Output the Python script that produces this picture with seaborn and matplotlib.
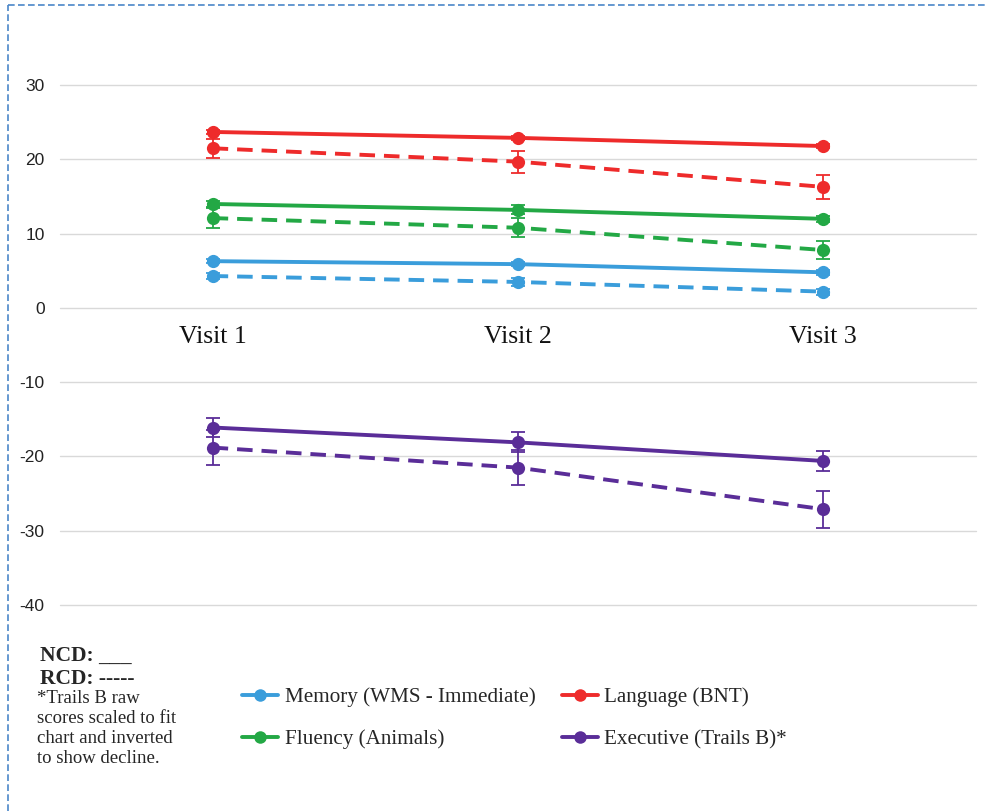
import numpy as np
import pandas as pd
import matplotlib.pyplot as plt
import matplotlib.lines as mlines
import seaborn as sns

visits = ["Visit 1", "Visit 2", "Visit 3"]
domains = ["Memory (WMS - Immediate)", "Language (BNT)", "Fluency (Animals)", "Executive (Trails B)*"]
colors = ["#3a9ddb", "#ee2b2b", "#23a845", "#5a2d98"]

# NCD = solid, RCD = dashed
memory_ncd = [6.3, 5.9, 4.8]
memory_rcd = [4.3, 3.5, 2.2]
language_ncd = [23.7, 22.9, 21.8]
language_rcd = [21.5, 19.7, 16.3]
fluency_ncd = [14.0, 13.2, 12.0]
fluency_rcd = [12.1, 10.8, 7.8]
executive_ncd = [-16.1, -18.1, -20.6]
executive_rcd = [-18.8, -21.5, -27.1]

memory_ncd_err = [0.3, 0.3, 0.3]
memory_rcd_err = [0.4, 0.5, 0.4]
language_ncd_err = [0.3, 0.3, 0.3]
language_rcd_err = [1.3, 1.5, 1.6]
fluency_ncd_err = [0.4, 0.6, 0.4]
fluency_rcd_err = [1.3, 1.3, 1.2]
executive_ncd_err = [1.3, 1.35, 1.35]
executive_rcd_err = [2.4, 2.4, 2.5]

ncd = [memory_ncd, language_ncd, fluency_ncd, executive_ncd]
rcd = [memory_rcd, language_rcd, fluency_rcd, executive_rcd]
ncd_err = [memory_ncd_err, language_ncd_err, fluency_ncd_err, executive_ncd_err]
rcd_err = [memory_rcd_err, language_rcd_err, fluency_rcd_err, executive_rcd_err]

rows = []
for d, n, r, ne, re in zip(domains, ncd, rcd, ncd_err, rcd_err):
    for i in range(len(visits)):
        rows.append({"visit": i, "domain": d, "group": "NCD", "score": n[i], "err": ne[i]})
        rows.append({"visit": i, "domain": d, "group": "RCD", "score": r[i], "err": re[i]})
df = pd.DataFrame(rows)

sns.set_style("white")
plt.rcParams["font.family"] = ["Liberation Sans Narrow", "Liberation Sans", "DejaVu Sans"]
plt.rcParams["axes.unicode_minus"] = False

fig = plt.figure(figsize=(9.88, 8.11), dpi=100)
ax = fig.add_axes([0.0607, 0.254, 0.927, 0.641])

palette = dict(zip(domains, colors))
for (d, g), sub in df.groupby(["domain", "group"]):
    ax.errorbar(sub["visit"], sub["score"], yerr=sub["err"], fmt="none",
                ecolor=palette[d], elinewidth=1.3, capsize=5, capthick=1.3, zorder=2)

sns.lineplot(data=df, x="visit", y="score", hue="domain", style="group",
             palette=palette, dashes={"NCD": "", "RCD": (4, 2.3)},
             markers={"NCD": "o", "RCD": "o"}, markersize=9.5, markeredgewidth=0,
             linewidth=2.8, legend=False, ax=ax, zorder=3)

ax.set_xlim(-0.5, 2.5)
ax.set_ylim(-40, 30)
ax.set_yticks(np.arange(-40, 31, 10))
ax.set_xticks([])
ax.yaxis.grid(True, color="#d9d9d9", linewidth=1)
for gl in ax.get_ygridlines():
    gl.set_clip_on(False)
for s in ax.spines.values():
    s.set_visible(False)
ax.tick_params(axis="y", length=0, pad=11, labelsize=12.5, labelcolor="#222222")
ax.set_xlabel("")
ax.set_ylabel("")

for i, v in enumerate(visits):
    ax.text(i, -3.95, v, ha="center", va="center", fontsize=18.5,
            family=["Liberation Serif"], color="#111111")

handles = [mlines.Line2D([], [], color=c, lw=2.8, marker="o", markersize=9, markeredgewidth=0)
           for c in colors]
order = [0, 2, 1, 3]
fig.legend([handles[i] for i in order], [domains[i] for i in order],
           loc="upper left", bbox_to_anchor=(0.226, 0.176), ncol=2, frameon=False,
           handlelength=1.7, handletextpad=0.3, columnspacing=1.25, labelspacing=1.05,
           prop={"family": "Liberation Serif", "size": 15.2})

fig.text(0.04, 0.191, "NCD: ___", fontsize=15.5, fontweight="bold",
         family=["Liberation Serif"], va="center")
fig.text(0.04, 0.163, "RCD: -----", fontsize=15.5, fontweight="bold",
         family=["Liberation Serif"], va="center")
fig.text(0.037, 0.149, "*Trails B raw\nscores scaled to fit\nchart and inverted\nto show decline.",
         fontsize=13.5, family=["Liberation Serif"], va="top", linespacing=1.22)

# dashed frame
fig.add_artist(mlines.Line2D([0.008, 1.0], [0.994, 0.994], transform=fig.transFigure,
                             color="#4a86c8", lw=1.2, ls=(0, (4, 2))))
fig.add_artist(mlines.Line2D([0.008, 0.008], [0.0, 0.994], transform=fig.transFigure,
                             color="#4a86c8", lw=1.2, ls=(0, (4, 2))))

fig.savefig("out.png", dpi=100)
